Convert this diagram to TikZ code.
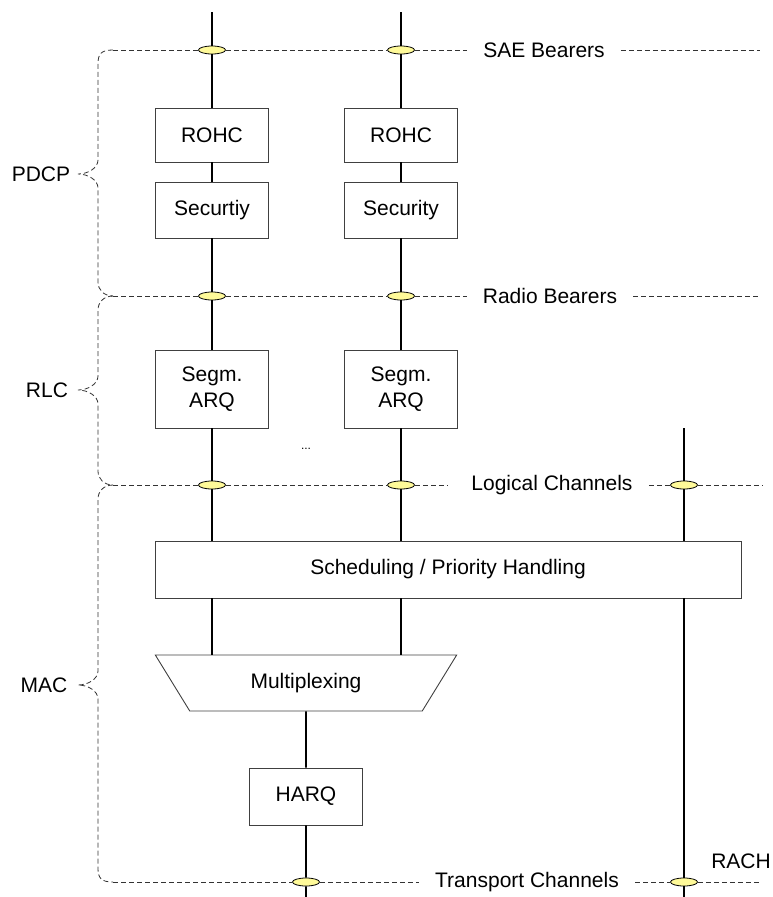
\documentclass[tikz,border=0pt]{standalone}
\usepackage{fontspec}
\setmainfont{Liberation Sans}
\usetikzlibrary{shapes.geometric,positioning,calc}

\tikzset{
  block/.style={draw=black!75, line width=0.9pt, fill=white, minimum width=113pt,
    minimum height=54pt, inner sep=0pt, align=center},
  bearer/.style={ellipse, draw=black, line width=0.8pt, fill=yellow!40,
    minimum width=27pt, minimum height=8pt, inner sep=0pt},
  chan/.style={line width=1.6pt, draw=black},
  sepline/.style={draw=black!80, line width=0.8pt, dash pattern=on 5pt off 3pt},
  sepname/.style={inner xsep=16pt, inner ysep=0pt}
}

\begin{document}
\begin{tikzpicture}[x=1pt,y=-1pt,font=\fontsize{21}{26}\selectfont]
    \useasboundingbox (0,0) rectangle (772,897);

    % protocol blocks
    \node[block] (rohc1) at (212,135) {ROHC};
    \node[block] (rohc2) at (401,135) {ROHC};
    \node[block, minimum height=56pt] (sec1) at (212,210) {Securtiy};
    \node[block, minimum height=56pt] (sec2) at (401,210) {Security};
    \node[block, minimum height=78pt] (seg1) at (212,389) {Segm.\\ARQ};
    \node[block, minimum height=78pt] (seg2) at (401,389) {Segm.\\ARQ};
    \node[block, minimum width=586pt, minimum height=57pt] (sched) at (448,569.5) {Scheduling / Priority Handling};
    \node[trapezium, shape border rotate=180, trapezium angle=50, trapezium stretches=true,
      minimum width=302pt, minimum height=56pt, inner sep=0pt, draw=black!75, line width=0.9pt] (mux) at (306,683) {Multiplexing};
    \node[block, minimum height=57pt] (harq) at (306,796.5) {HARQ};

    % service access points
    \node[bearer] (sae1) at (212,50) {};
    \node[bearer] (sae2) at (401,50) {};
    \node[bearer] (rb1) at (212,296) {};
    \node[bearer] (rb2) at (401,296) {};
    \node[bearer] (lc1) at (212,485) {};
    \node[bearer] (lc2) at (401,485) {};
    \node[bearer] (lc3) at (684,485) {};
    \node[bearer] (tc1) at (306,882) {};
    \node[bearer] (tc3) at (684,882) {};

    % labels
    \node[sepname] (saelbl) at (544,50) {SAE Bearers};
    \node[sepname] (rblbl) at (550,296) {Radio Bearers};
    \node[sepname] (lclbl) at (552,485) {Logical Channels};
    \node[sepname] (tclbl) at (527,882) {Transport Channels};
    \node (pdcp) at (41,174) {PDCP};
    \node (rlc) at (47,390) {RLC};
    \node (mac) at (44,685) {MAC};
    \node (rach) at (741,861) {RACH};
    \node[font=\fontsize{12}{14}\selectfont] (dots) at (306,449) {...};

    \coordinate (top1) at (212,12);
    \coordinate (top2) at (401,12);
    \coordinate (racht) at (684,428);
    \coordinate (rachb) at (684,897);
    \coordinate (tcb) at (306,897);
    \coordinate (saeL) at (113,50);
    \coordinate (saeR) at (760,50);
    \coordinate (rbL) at (113,296);
    \coordinate (rbR) at (760,296);
    \coordinate (lcL) at (113,485);
    \coordinate (lcR) at (762,485);
    \coordinate (tcL) at (113,882);
    \coordinate (tcR) at (760,882);

    % data paths
    \draw[chan] (top1) -- (sae1) -- (rohc1) -- (sec1) -- (rb1) -- (seg1) -- (lc1) -- (lc1 |- sched.north);
    \draw[chan] (top2) -- (sae2) -- (rohc2) -- (sec2) -- (rb2) -- (seg2) -- (lc2) -- (lc2 |- sched.north);
    \draw[chan] (lc1 |- sched.south) -- (lc1 |- mux.north);
    \draw[chan] (lc2 |- sched.south) -- (lc2 |- mux.north);
    \draw[chan] (racht) -- (lc3) -- (lc3 |- sched.north);
    \draw[chan] (lc3 |- sched.south) -- (tc3) -- (rachb);
    \draw[chan] (mux) -- (harq) -- (tc1) -- (tcb);

    % layer boundaries
    \draw[sepline] (saeL) -- (sae1) -- (sae2) -- (saelbl) (saelbl) -- (saeR);
    \draw[sepline] (rbL) -- (rb1) -- (rb2) -- (rblbl) (rblbl) -- (rbR);
    \draw[sepline] (lcL) -- (lc1) -- (lc2) -- ([xshift=-8pt]lclbl.west) (lclbl) -- (lc3) -- (lcR);
    \draw[sepline] (tcL) -- (tc1) -- (tclbl) (tclbl) -- (tc3) -- (tcR);

    % braces
    \draw[sepline] (saeL) .. controls (101,50) and (98,54) .. (98,64) -- (98,160)
      .. controls (98,168) and (88,174) .. (78,174) .. controls (88,174) and (98,180) .. (98,188)
      -- (98,282) .. controls (98,290) and (104,296) .. (rbL);
    \draw[sepline] (rbL) .. controls (104,296) and (98,302) .. (98,310) -- (98,376)
      .. controls (98,384) and (88,390) .. (78,390) .. controls (88,390) and (98,396) .. (98,404)
      -- (98,471) .. controls (98,479) and (104,485) .. (lcL);
    \draw[sepline] (lcL) .. controls (104,485) and (98,491) .. (98,499) -- (98,671)
      .. controls (98,679) and (88,685) .. (78,685) .. controls (88,685) and (98,691) .. (98,699)
      -- (98,868) .. controls (98,878) and (101,882) .. (tcL);
\end{tikzpicture}
\end{document}
